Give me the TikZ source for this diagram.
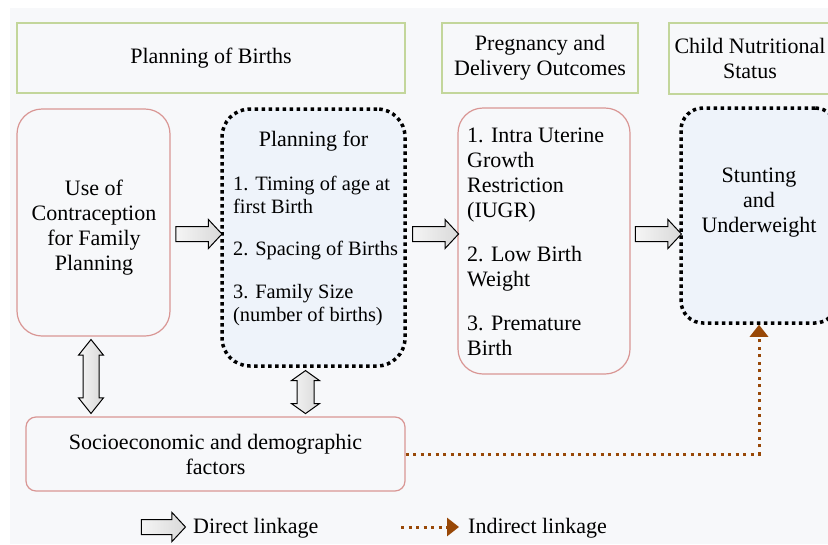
\documentclass[tikz,border=0pt]{standalone}
\usepackage{fontspec}
\setmainfont{Liberation Serif}
\usepackage{tikz}
\usetikzlibrary{arrows.meta}
\usetikzlibrary{shapes.arrows}
\usepackage{xcolor}
\definecolor{hdrgreen}{HTML}{C3D69B}
\definecolor{boxpink}{HTML}{D99694}
\definecolor{planblue}{HTML}{EEF3FA}
\definecolor{bggray}{HTML}{F7F8FA}
\definecolor{linkbrown}{HTML}{984807}

\begin{document}
\begin{tikzpicture}[x=1pt, y=-1pt,
        every node/.style={font=\fontsize{22}{25}\selectfont},
        header/.style={draw=hdrgreen, line width=1.5pt, align=center, inner sep=0pt},
        pinkbox/.style={draw=boxpink, line width=1.2pt, rounded corners=25pt},
        dotbox/.style={draw=black, fill=planblue, line width=3.5pt, dash pattern=on 3.5pt off 3.5pt, rounded corners=28pt},
        fatarrow/.style={single arrow, draw=black, line width=1pt, left color=gray!8, right color=gray!30,
            inner sep=0pt, inner ysep=7pt, single arrow head extend=7pt, single arrow tip angle=94, minimum height=46pt},
        dblarrow/.style={double arrow, draw=black, line width=1pt, left color=gray!8, right color=gray!30,
            inner sep=0pt, rotate=90},
        indirect/.style={draw=linkbrown, line width=3pt, dash pattern=on 3pt off 4.5pt,
            -{Triangle[width=18pt,length=12pt]}}]
        \useasboundingbox (0,0) rectangle (828,544);
        \fill[bggray] (10,8) rectangle (828,544);

        % headers
        \node[header, minimum width=388pt, minimum height=70pt] (hbirth) at (211,58) {Planning of Births};
        \node[header, minimum width=196pt, minimum height=70pt] (hout) at (540,58) {Pregnancy and\\Delivery Outcomes};
        \node[header, minimum width=162pt, minimum height=71pt] (hchild) at (750,58.5) {Child Nutritional\\Status};

        % boxes
        \node[pinkbox, minimum width=153pt, minimum height=227pt] (use) at (93.5,222.5) {};
        \node[dotbox, minimum width=183pt, minimum height=257pt] (plan) at (313.5,237.5) {};
        \node[pinkbox, minimum width=172pt, minimum height=266pt] (outc) at (544,241) {};
        \node[dotbox, rounded corners=22pt, minimum width=156pt, minimum height=215pt] (stunt) at (759,215.5) {};
        \node[pinkbox, rounded corners=10pt, align=center, minimum width=379pt, minimum height=74pt] (soc) at (215.5,454)
            {Socioeconomic and demographic\\factors};

        % box texts
        \node[anchor=north, align=center, inner sep=0pt] (use-t) at (94,180) {Use of\\Contraception\\for Family\\Planning};
        \node[anchor=north, inner sep=0pt] (planfor) at (313.5,131) {Planning for};
        \node[anchor=north west, align=left, inner sep=0pt, font=\fontsize{20.4}{23}\selectfont] (plist) at (233,176)
            {1. Timing of age at\\first Birth\\[19pt]2. Spacing of Births\\[20pt]3. Family Size\\(number of births)};
        \node[anchor=north west, align=left, inner sep=0pt] (outc-t) at (467,128)
            {1. Intra Uterine\\Growth\\Restriction\\(IUGR)\\[19pt]2. Low Birth\\Weight\\[19pt]3. Premature\\Birth};
        \node[anchor=north, align=center, inner sep=0pt] (stunt-t) at (759,168) {Stunting\\and\\Underweight};

        % direct linkages
        \coordinate (mid) at (0,234);
        \path (use.east |- mid) -- node[fatarrow] (a1) {} (plan.west |- mid);
        \path (plan.east |- mid) -- node[fatarrow] (a2) {} (outc.west |- mid);
        \path (outc.east |- mid) -- node[fatarrow] (a3) {} (stunt.west |- mid);
        \coordinate (lft) at ([xshift=-2.5pt]use.south);
        \coordinate (rgt) at ([xshift=-8pt]plan.south);
        \path (lft) -- node[dblarrow, inner ysep=7.5pt, double arrow head extend=4.5pt, double arrow tip angle=77,
            minimum height=74pt] (d1) {} (lft |- soc.north);
        \path (rgt) -- node[dblarrow, inner ysep=8pt, double arrow head extend=5.5pt, double arrow tip angle=109,
            minimum height=43pt] (d2) {} (rgt |- soc.north);

        % indirect linkage
        \draw[indirect] (soc.east) -| (stunt.south);

        % legend
        \node[fatarrow, minimum height=44pt] (lgarrow) at (160,527) {};
        \node[anchor=base west, inner sep=0pt] (lgdirect) at (193,533) {Direct linkage};
        \coordinate (lg1) at (401,527);
        \coordinate (lg2) at (459,527);
        \draw[indirect] (lg1) -- (lg2);
        \node[anchor=base west, inner sep=0pt] (lgindirect) at (468,533) {Indirect linkage};
    \end{tikzpicture}
\end{document}
